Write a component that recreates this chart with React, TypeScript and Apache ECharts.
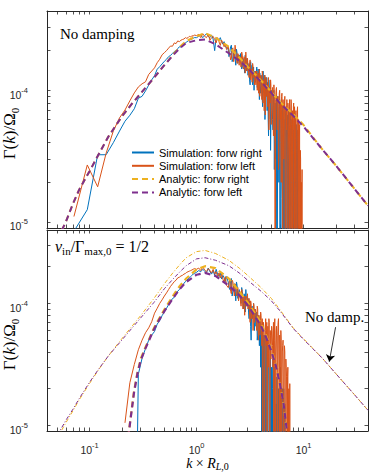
import React, { useEffect, useRef } from "react";
import * as echarts from "echarts";

// ---------- simulation wavenumber grid, k × R_L,0 ----------
const kSimLo = [
  0.0714, 0.0952, 0.119, 0.1428, 0.1666, 0.1904, 0.2142, 0.238, 0.2618, 0.2856,
  0.3094, 0.3332, 0.357, 0.3808, 0.4046, 0.4284, 0.4522, 0.476, 0.4998, 0.5236,
  0.5474, 0.5712, 0.595, 0.6188, 0.6426, 0.6664, 0.6902, 0.714, 0.7378, 0.7616,
  0.7854, 0.8092, 0.833, 0.8568, 0.8806, 0.9044, 0.9282, 0.952,
];
const kSimMid = [
  0.9996, 1.0472, 1.0948, 1.1424, 1.19, 1.2376, 1.2852, 1.3328, 1.3804, 1.428,
  1.4756, 1.5232, 1.5708, 1.6184, 1.666, 1.7136, 1.7612, 1.8088, 1.8564, 1.904,
];
const kSimHi = [
  1.975, 2.045, 2.115, 2.185, 2.255, 2.325, 2.395, 2.465,
  2.535, 2.605, 2.675, 2.745, 2.815, 2.885, 2.955,
  3.025, 3.095, 3.165, 3.235, 3.305, 3.375, 3.445, 3.515,
  3.585, 3.655, 3.725, 3.795, 3.865, 3.935,
  4.005, 4.075, 4.145, 4.215, 4.285, 4.355, 4.425, 4.495,
  4.565, 4.635, 4.705, 4.775, 4.845, 4.915, 4.985,
  5.08, 5.18, 5.28, 5.38, 5.48, 5.58, 5.68, 5.78, 5.88, 5.98,
  6.08, 6.18, 6.28, 6.38, 6.48, 6.58, 6.68, 6.78, 6.88, 6.98,
  7.08, 7.18, 7.28, 7.38, 7.48, 7.58, 7.68, 7.78, 7.88, 7.98,
  8.08, 8.18, 8.28, 8.38, 8.48, 8.58, 8.68, 8.78, 8.88, 8.98,
  9.08, 9.18, 9.28, 9.38, 9.48, 9.58, 9.68, 9.78,
];
// interleaved samples of the noisy high-k part
const kSimHi2 = [
  2.01, 2.08, 2.15, 2.22, 2.29, 2.36, 2.43, 2.5,
  2.57, 2.64, 2.71, 2.78, 2.85, 2.92, 2.99,
  3.06, 3.13, 3.2, 3.27, 3.34, 3.41, 3.48, 3.55,
  3.62, 3.69, 3.76, 3.83, 3.9, 3.97,
  4.04, 4.11, 4.18, 4.25, 4.32, 4.39, 4.46, 4.53,
  4.6, 4.67, 4.74, 4.81, 4.88, 4.95, 5.03,
  5.13, 5.23, 5.33, 5.43, 5.53, 5.63, 5.73, 5.83, 5.93, 6.03,
  6.13, 6.23, 6.33, 6.43, 6.53, 6.63, 6.73, 6.83, 6.93, 7.03,
  7.13, 7.23, 7.33, 7.43, 7.53, 7.63, 7.73, 7.83, 7.93, 8.03,
  8.13, 8.23, 8.33, 8.43, 8.53, 8.63, 8.73, 8.83, 8.93, 9.03,
  9.13, 9.23, 9.33, 9.43, 9.53, 9.63, 9.73,
];

// ---------- growth rate Γ(k)/Ω0 in units of 1e-4 (0 = below axis, null = none) ----------
// Top panel: no damping
const simRightTop = [
  0.085, 0.124, 0.324, 0.324, 0.4, 0.49, 0.582, 0.646, 0.724, 0.87,
  0.9, 0.989, 1.096, 1.2, 1.29, 1.445, 1.51, 1.585, 1.66, 1.72,
  1.8, 1.84, 1.905, 1.97, 2.0, 2.07, 2.14, 2.13, 2.19, 2.25,
  2.29, 2.33, 2.37, 2.4, 2.43, 2.45, 2.48, 2.51,
  2.51, 2.57, 2.63, 2.51, 2.6, 2.69, 2.57, 2.51, 2.63, 2.45,
  2.0, 2.51, 2.43, 2.4, 2.51, 2.34, 2.24, 2.34, 2.19, 2.09,
  2.05, 1.95, 2.2, 1.7, 2.0, 1.55, 1.9, 1.8,
  1.65, 1.9, 1.5, 1.7, 1.35, 1.6, 1.75,
  1.3, 1.6, 1.1, 1.45, 1.55, 1.2, 1.0, 1.4,
  1.25, 1.5, 1.05, 1.3, 0.85, 1.35,
  1.0, 1.3, 0.75, 1.2, 1.1, 0.6, 1.25, 0.9,
  0.7, 1.15, 0.45, 1.05, 0.8, 0.35, 0.95,
  0.85, 0.5, 1.0, 0.65, 0.3, 0.9, 0, 0.75, 0.2, 0.85,
  0, 0.7, 0.15, 0.8, 0, 0.6, 0.25, 0, 0.75, 0.1,
  0.65, 0, 0.5, 0.05, 0.7, 0, 0.3, 0.6, 0, 0.55,
  0, 0.45, 0.1, 0.6, 0, 0.35, 0, 0.5, 0.05, null,
  null, null, null, null, null, null, null, null,
];
const simRightTop2 = [
  1.8, 2.15, 1.65, 1.95, 1.75, 2.05, 1.6, 1.85,
  1.9, 1.45, 1.75, 1.55, 1.85, 1.4, 1.6,
  1.45, 1.2, 1.65, 1.3, 1.1, 1.5, 1.35, 1.15,
  1.4, 1.05, 1.45, 1.15, 1.35, 0.95,
  1.2, 0.85, 1.4, 0.95, 1.3, 0.8, 1.1, 1.25,
  1.1, 0.6, 1.2, 0.9, 1.05, 0.55, 1.0,
  0.6, 0.95, 0.25, 0.8, 0.55, 0, 0.9, 0.4, 0.7, 0,
  0.65, 0.3, 0, 0.75, 0.45, 0, 0.7, 0.2, 0.55, 0,
  0.3, 0.7, 0, 0.45, 0.65, 0, 0.55, 0.15, 0.6, 0,
  0.5, 0, 0.4, 0, 0.55, 0.2, 0.45, 0, null, null,
  null, null, null, null, null, null, null,
];
const simLeftTop = [
  0.11, 0.271, 0.185, 0.333, 0.49, 0.617, 0.708, 0.832, 0.955, 1.06,
  1.12, 1.16, 1.32, 1.4, 1.48, 1.62, 1.72, 1.86, 1.93, 2.0,
  2.09, 2.17, 2.16, 2.29, 2.26, 2.37, 2.34, 2.4, 2.43, 2.45,
  2.51, 2.48, 2.51, 2.57, 2.54, 2.6, 2.57, 2.63,
  2.6, 2.66, 2.51, 2.69, 2.57, 2.51, 2.66, 2.4, 2.51, 2.57,
  2.43, 2.29, 2.51, 2.34, 2.19, 2.4, 2.29, 2.14, 2.24, 2.04,
  2.15, 1.9, 1.75, 2.1, 1.8, 1.95, 1.6, 1.85,
  1.8, 1.5, 1.85, 1.45, 1.7, 1.95, 1.4,
  1.55, 1.25, 1.7, 1.3, 1.15, 1.5, 1.35, 1.2,
  1.1, 1.4, 1.2, 0.95, 1.45, 1.15,
  1.25, 0.85, 1.35, 0.95, 0.7, 1.3, 1.0, 1.15,
  1.1, 0.75, 1.25, 0.6, 0.95, 1.2, 0.55,
  0.95, 0.6, 1.1, 0.4, 0.85, 1.05, 0.5, 0.9, 0.3, 1.0,
  0.8, 0.2, 0.95, 0, 0.7, 0.45, 0.9, 0, 0.65, 0.85,
  0, 0.75, 0.3, 0.85, 0, 0.6, 0.8, 0, 0.7, 0.35,
  0.8, 0, 0.65, 0.2, 0.7, 0, 0.55, 0.75, 0, 0.6,
  0, 0.55, 0, 0.3, 0.1, 0, 0.25, 0,
];
const simLeftTop2 = [
  1.95, 1.7, 2.05, 1.65, 2.2, 1.75, 1.9, 1.55,
  1.65, 1.95, 1.55, 1.8, 1.35, 1.6, 1.75,
  1.35, 1.6, 1.2, 1.45, 1.6, 1.25, 1.1, 1.4,
  1.3, 1.0, 1.35, 1.25, 0.9, 1.3,
  1.05, 1.4, 0.8, 1.2, 1.1, 0.65, 1.25, 0.9,
  0.85, 1.15, 0.5, 1.05, 0.8, 1.1, 0.7,
  1.05, 0.45, 0.9, 0, 1.0, 0.7, 0.85, 0.25, 0.95, 0.6,
  0.4, 0.9, 0.6, 0.85, 0.3, 0.8, 0, 0.75, 0.5, 0,
  0.8, 0.45, 0, 0.7, 0.5, 0.85, 0.2, 0.65, 0, 0.75,
  0.35, 0.75, 0, 0.6, 0.4, 0, 0.7, 0.3, 0.5, 0,
  0.45, 0, 0.35, 0, 0.2, 0.15, 0,
];
// Bottom panel: nu_in / Gamma_max,0 = 1/2
const simRightBot = [
  null, null, null, null, null, null, null, null, 0, 0.263,
  0.355, 0.427, 0.5, 0.55, 0.589, 0.676, 0.724, 0.794, 0.851, 0.912,
  0.977, 1.035, 1.096, 1.12, 1.2, 1.26, 1.3, 1.35, 1.41, 1.46,
  1.51, 1.55, 1.585, 1.62, 1.66, 1.7, 1.74, 1.76,
  1.8, 1.86, 1.82, 1.905, 1.84, 1.78, 1.95, 1.82, 1.74, 1.86,
  1.7, 1.905, 1.74, 1.66, 1.78, 1.585, 1.7, 1.62, 1.51, 1.66,
  1.5, 1.3, 1.6, 1.25, 1.45, 1.05, 1.4, 1.2,
  1.3, 1.0, 1.25, 0.9, 1.15, 1.3, 0.95,
  1.1, 0.75, 1.0, 0.5, 0.95, 0.85, 0.7, 0.9,
  0.65, 0.85, 0.55, 0.8, 0.45, 0.75,
  0.6, 0, 0.7, 0.35, 0, 0.55, 0.25, 0,
  0.5, 0, 0.45, 0.15, 0, 0.4, 0,
  0, 0.35, 0, 0.3, 0, 0, 0.25, 0, 0.1, 0,
  0.3, 0, 0, 0.2, 0, 0, 0.15, 0, null, null,
];
const simRightBot2 = [
  1.35, 1.55, 1.15, 1.4, 1.3, 1.5, 1.1, 1.3,
  1.1, 1.35, 1.05, 1.2, 0.85, 1.1, 1.0,
  0.85, 1.05, 0.65, 0.9, 0.75, 1.0, 0.6, 0.8,
  0.75, 0.5, 0.8, 0.6, 0.7, 0.3,
  0.5, 0.65, 0, 0.55, 0.45, 0, 0.5, 0.35,
  0, 0.4, 0.3, 0, 0.45, 0, 0.3,
  0.2, 0, 0.3, 0, 0.15, 0.25, 0, 0.2, 0, 0.15,
  0, 0.2, 0, 0.1, 0.2, 0, 0, null, null, null,
];
const simLeftBot = [
  null, null, null, null, null, null, 0.105, 0.224, 0.316, 0.417,
  0.5, 0.575, 0.631, 0.708, 0.832, 0.912, 1.0, 1.07, 1.15, 1.22,
  1.3, 1.38, 1.445, 1.51, 1.55, 1.62, 1.64, 1.68, 1.7, 1.74,
  1.76, 1.8, 1.82, 1.84, 1.86, 1.88, 1.905, 1.93,
  1.905, 1.95, 1.86, 2.0, 1.88, 1.82, 1.93, 1.86, 1.78, 1.905,
  1.74, 1.82, 1.66, 1.78, 1.62, 1.74, 1.585, 1.48, 1.66, 1.41,
  1.35, 1.6, 1.2, 1.5, 1.15, 1.4, 1.25, 1.05,
  1.25, 0.95, 1.2, 1.1, 0.8, 1.15, 1.0,
  0.9, 1.1, 0.7, 1.0, 0.85, 0.6, 0.95, 0.8,
  0.85, 0.6, 0.9, 0.5, 0.75, 0.65,
  0.8, 0.45, 0, 0.7, 0.55, 0.3, 0.75, 0.5,
  0, 0.65, 0.4, 0.7, 0, 0.55, 0.45,
  0.6, 0.3, 0, 0.75, 0.4, 0.65, 0, 0.7, 0.3, 0.55,
  0, 0.5, 0.25, 0.45, 0, 0.35, 0.4, 0, 0.3, 0.1,
  0.25, 0, 0.2, 0, null, null, null, null, null, null,
];
const simLeftBot2 = [
  1.45, 1.25, 1.55, 1.3, 1.45, 1.15, 1.35, 1.2,
  1.05, 1.3, 0.9, 1.15, 1.05, 0.95, 1.2,
  1.0, 0.8, 1.05, 0.75, 0.9, 1.0, 0.7, 0.9,
  0.7, 0.95, 0.6, 0.8, 0.55, 0.85,
  0.6, 0.75, 0.4, 0.65, 0, 0.6, 0.45, 0.7,
  0.5, 0.3, 0.75, 0, 0.6, 0.35, 0.65,
  0.45, 0.7, 0.5, 0, 0.6, 0.35, 0.55, 0.75, 0, 0.45,
  0.6, 0, 0.4, 0.5, 0.2, 0.45, 0, 0.35, 0.25, 0,
  0.3, 0.15, 0, 0.22, 0, null, null, null, null, null,
];

// ---------- analytic curves ----------
const kAna = [
  0.05, 0.06, 0.07, 0.08, 0.1, 0.12, 0.15, 0.2, 0.25, 0.3,
  0.4, 0.5, 0.6, 0.7, 0.8, 1.0, 1.2, 1.5, 2, 2.5,
  3, 4, 5, 6, 8, 10, 15, 20, 30, 40,
];
const anaRightTop = [
  0.074, 0.1, 0.138, 0.176, 0.243, 0.32, 0.445, 0.631, 0.794, 0.944,
  1.245, 1.55, 1.86, 2.14, 2.37, 2.57, 2.72, 2.51, 2.14, 1.78,
  1.51, 1.19, 0.97, 0.82, 0.66, 0.545, 0.355, 0.269, 0.178, 0.133,
];
const anaLeftTop = [
  0.074, 0.1, 0.138, 0.176, 0.243, 0.32, 0.445, 0.631, 0.794, 0.944,
  1.245, 1.55, 1.84, 2.09, 2.29, 2.4, 2.43, 2.24, 1.91, 1.68,
  1.48, 1.16, 0.955, 0.8, 0.64, 0.53, 0.355, 0.269, 0.178, 0.133,
];
const noDampRight = [
  0.079, 0.105, 0.132, 0.162, 0.221, 0.282, 0.372, 0.513, 0.653, 0.794,
  1.1, 1.45, 1.78, 2.09, 2.37, 2.66, 2.72, 2.57, 2.26, 1.95,
  1.7, 1.35, 1.1, 0.89, 0.63, 0.513, 0.355, 0.266, 0.178, 0.133,
];
const noDampLeft = [
  0.083, 0.11, 0.136, 0.166, 0.226, 0.285, 0.372, 0.5, 0.63, 0.76,
  1.02, 1.32, 1.58, 1.82, 2.04, 2.32, 2.37, 2.26, 2.04, 1.78,
  1.55, 1.26, 1.05, 0.87, 0.624, 0.507, 0.355, 0.266, 0.178, 0.133,
];
const kDamp = [
  0.23, 0.24, 0.25, 0.26, 0.28, 0.3, 0.33, 0.36, 0.4, 0.45,
  0.5, 0.6, 0.7, 0.8, 1.0, 1.2, 1.5, 2, 2.5, 3,
  3.5, 4, 4.5, 5, 5.5, 6, 6.5, 7,
];
const dampRight = [
  0.08, 0.11, 0.145, 0.19, 0.27, 0.35, 0.43, 0.51, 0.63, 0.76,
  0.89, 1.15, 1.4, 1.6, 1.9, 2.02, 1.95, 1.6, 1.26, 1.02,
  0.832, 0.692, 0.537, 0.417, 0.316, 0.224, 0.148, 0.089,
];
const dampLeft = [
  0.08, 0.108, 0.142, 0.185, 0.265, 0.34, 0.42, 0.5, 0.615, 0.74,
  0.865, 1.1, 1.32, 1.5, 1.72, 1.78, 1.68, 1.4, 1.17, 0.97,
  0.79, 0.655, 0.52, 0.405, 0.31, 0.222, 0.15, 0.089,
];

// ---------- axes ----------
const xLimits = [0.04, 40];
const yLimits = [9e-6, 4e-4];
const xTickLabels = [0.1, 1, 10];
const yTickLabels = [1e-5, 1e-4];
const xMinorTicks = [0.05, 0.06, 0.07, 0.08, 0.09, 0.2, 0.3, 0.4, 0.5, 0.6, 0.7, 0.8, 0.9, 2, 3, 4, 5, 6, 7, 8, 9, 20, 30];
const yMinorTicks = [2e-5, 3e-5, 4e-5, 5e-5, 6e-5, 7e-5, 8e-5, 9e-5, 2e-4, 3e-4];

const legendNames = [
  "Simulation: forw right",
  "Simulation: forw left",
  "Analytic: forw right",
  "Analytic: forw left",
];

const BLUE = "#0072BD";
const ORANGE = "#D95319";
const YELLOW = "#EDB120";
const PURPLE = "#7E2F8E";
const AX = "#262626";

const lg = Math.log10;
const X0 = lg(xLimits[0]);
const X1 = lg(xLimits[1]);
const Y0 = lg(yLimits[0]);
const Y1 = lg(yLimits[1]);
const FLOOR = -7;

function pairs(ks: number[], vs: (number | null)[]) {
  const out: number[][] = [];
  const n = Math.min(ks.length, vs.length);
  for (let i = 0; i < n; i++) {
    const v = vs[i];
    if (v === null || v === undefined) continue;
    out.push([lg(ks[i]), v > 0 ? lg(v * 1e-4) : FLOOR]);
  }
  return out;
}
function merged(k1: number[], v1: (number | null)[], k2: number[], v2: (number | null)[]) {
  return [...pairs(k1, v1), ...pairs(k2, v2)].sort((a, b) => a[0] - b[0]);
}

const kSim = [...kSimLo, ...kSimMid, ...kSimHi];

function line(name: string, data: number[][], color: string, width: number, dash: any, gi: number, z: number, extra: any = {}) {
  return {
    type: "line",
    name,
    data,
    xAxisIndex: gi * 2,
    yAxisIndex: gi * 2,
    symbol: "none",
    showSymbol: false,
    lineStyle: { color, width, type: dash },
    itemStyle: { color },
    silent: true,
    z,
    clip: true,
    animation: false,
    ...extra,
  };
}

const xTicksAll = [...xTickLabels, ...xMinorTicks].map(lg);
const yTicksAll = [...yTickLabels, ...yMinorTicks].map(lg);

const tickRich = {
  b: { fontSize: 10.5, fontFamily: "Liberation Sans", color: AX, lineHeight: 20, verticalAlign: "bottom" },
  s: { fontSize: 7.5, fontFamily: "Liberation Sans", color: AX, verticalAlign: "middle" },
};
const pow10 = (v: number) => `{b|10}{s|${Math.round(v)}}`;

function serif(size: number, subSize: number, lh: number) {
  return {
    n: { fontFamily: "Liberation Serif", fontSize: size, color: "#000", lineHeight: lh },
    i: { fontFamily: "Liberation Serif", fontStyle: "italic", fontSize: size, color: "#000", lineHeight: lh },
    sub: { fontFamily: "Liberation Serif", fontSize: subSize, color: "#000", lineHeight: lh, verticalAlign: "bottom" },
    isub: { fontFamily: "Liberation Serif", fontStyle: "italic", fontSize: subSize, color: "#000", lineHeight: lh, verticalAlign: "bottom" },
  };
}

const axLine = { show: true, onZero: false, lineStyle: { color: AX, width: 1 } };
const tickStyle = (vals: number[]) => ({
  show: true,
  inside: true,
  length: 3.5,
  customValues: vals,
  lineStyle: { color: AX, width: 0.8 },
});

function xAxes(gi: number, labels: boolean) {
  const base = {
    type: "value",
    gridIndex: gi,
    min: X0,
    max: X1,
    axisLine: axLine,
    axisTick: tickStyle(xTicksAll),
    splitLine: { show: false },
  };
  return [
    {
      ...base,
      position: "bottom",
      axisLabel: labels
        ? { show: true, customValues: xTickLabels.map(lg), formatter: pow10, rich: tickRich, margin: 4 }
        : { show: false },
      name: labels ? "{i|k}{n| × }{i|R}{isub|L}{sub|,0}" : "",
      nameLocation: "middle",
      nameGap: 24,
      nameTextStyle: { rich: serif(14, 10, 16) },
    },
    { ...base, position: "top", axisLabel: { show: false } },
  ];
}

function yAxes(gi: number) {
  const base = {
    type: "value",
    gridIndex: gi,
    min: Y0,
    max: Y1,
    axisLine: axLine,
    axisTick: tickStyle(yTicksAll),
    splitLine: { show: false },
  };
  return [
    {
      ...base,
      position: "left",
      axisLabel: { show: true, customValues: yTickLabels.map(lg), formatter: pow10, rich: tickRich, margin: 19 },
      name: "{n|Γ(}{i|k}{n|)/Ω}{sub|0}",
      nameLocation: "middle",
      nameRotate: 90,
      nameGap: 27,
      nameMoveOverlap: false,
      nameTextStyle: { rich: serif(17, 11, 21), padding: [0, 28, 0, 0] },
    },
    { ...base, position: "right", axisLabel: { show: false } },
  ];
}

export default function App() {
  const ref = useRef<HTMLDivElement>(null);
  useEffect(() => {
    if (!ref.current) return;
    const chart = echarts.init(ref.current, undefined, { renderer: "svg" });
    const dashThick = [6, 4];
    const dashDot = [4, 2, 1, 2];
    chart.setOption({
      animation: false,
      backgroundColor: "#fff",
      grid: [
        { left: 47, top: 11, width: 321, height: 217, outerBoundsMode: "none" },
        { left: 47, top: 230, width: 321, height: 201, outerBoundsMode: "none" },
      ],
      xAxis: [...xAxes(0, false), ...xAxes(1, true)],
      yAxis: [...yAxes(0), ...yAxes(1)],
      legend: {
        data: legendNames,
        orient: "vertical",
        left: 131,
        top: 147,
        padding: 0,
        itemWidth: 22,
        itemHeight: 12,
        itemGap: 2.3,
        selectedMode: false,
        itemStyle: { opacity: 0 },
        textStyle: { fontFamily: "Liberation Sans", fontSize: 11, color: "#000" },
      },
      graphic: [
        {
          type: "text",
          left: 60,
          top: 26,
          style: { text: "No damping", font: '15px "Liberation Serif"', fill: "#000" },
        },
        {
          type: "text",
          left: 55,
          top: 238,
          style: {
            text: "{i|ν}{sub|in}{n|/Γ}{sub|max,0}{n| = 1/2}",
            rich: serif(16, 11, 20),
          },
        },
        {
          type: "text",
          left: 305,
          top: 309,
          style: { text: "No damp.", font: '15px "Liberation Serif"', fill: "#000" },
        },
      ],
      series: [
        line(legendNames[0], merged(kSim, simRightTop, kSimHi2, simRightTop2), BLUE, 1, "solid", 0, 2),
        line(legendNames[1], merged(kSim, simLeftTop, kSimHi2, simLeftTop2), ORANGE, 1, "solid", 0, 3),
        line(legendNames[2], pairs(kAna, anaRightTop), YELLOW, 2, dashThick, 0, 4),
        line(legendNames[3], pairs(kAna, anaLeftTop), PURPLE, 2, dashThick, 0, 5),
        line("sim right damped", merged(kSim, simRightBot, kSimHi2, simRightBot2), BLUE, 1, "solid", 1, 2),
        line("sim left damped", merged(kSim, simLeftBot, kSimHi2, simLeftBot2), ORANGE, 1, "solid", 1, 3),
        line("ana right damped", pairs(kDamp, dampRight), YELLOW, 2.2, dashThick, 1, 4),
        line("ana left damped", pairs(kDamp, dampLeft), PURPLE, 2.2, dashThick, 1, 5),
        line("no damp right", pairs(kAna, noDampRight), YELLOW, 1, dashDot, 1, 6),
        line("no damp left", pairs(kAna, noDampLeft), PURPLE, 1, dashDot, 1, 7, {
          markLine: {
            silent: true,
            animation: false,
            symbol: ["none", "arrow"],
            symbolSize: 7,
            label: { show: false },
            lineStyle: { color: "#000", width: 0.8, type: "solid" },
            data: [[{ coord: [1.299, -4.195] }, { coord: [1.24, -4.478] }]],
          },
        }),
      ],
    });
    return () => chart.dispose();
  }, []);
  return (
    <div
      ref={ref}
      style={{ position: "absolute", left: 0, top: 0, width: 374, height: 473 }}
    />
  );
}
